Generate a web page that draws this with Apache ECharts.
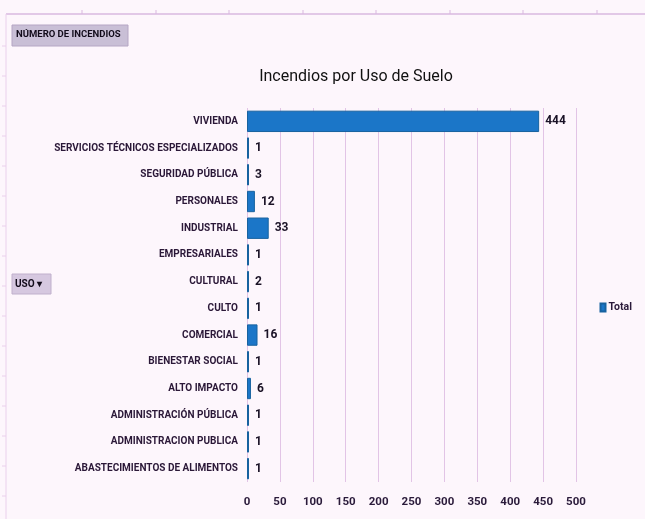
<!DOCTYPE html>
<html>
<head>
<meta charset="utf-8">
<script src="https://cdn.jsdelivr.net/npm/echarts@6/dist/echarts.min.js"></script>
<style>
html,body{margin:0;padding:0;background:#fdf6fc;}
#idChart{width:645px;height:519px;}
</style>
</head>
<body>
<div id="idChart"></div>
<script>
var categories = ['VIVIENDA', 'SERVICIOS TÉCNICOS ESPECIALIZADOS', 'SEGURIDAD PÚBLICA', 'PERSONALES',
    'INDUSTRIAL', 'EMPRESARIALES', 'CULTURAL', 'CULTO', 'COMERCIAL', 'BIENESTAR SOCIAL',
    'ALTO IMPACTO', 'ADMINISTRACIÓN PÚBLICA', 'ADMINISTRACION PUBLICA', 'ABASTECIMIENTOS DE ALIMENTOS'];
var totals = [444, 1, 3, 12, 33, 1, 2, 1, 16, 1, 6, 1, 1, 1];
var xTicks = [0, 50, 100, 150, 200, 250, 300, 350, 400, 450, 500];

var myChart = echarts.init(document.getElementById('idChart'));

var fnt = 'Roboto, "Liberation Sans Narrow", sans-serif';

// marcas del borde superior e izquierdo
var frame = [
    {type: 'line', shape: {x1: 6, y1: 14, x2: 645, y2: 14}, style: {stroke: '#d9b8e0', lineWidth: 1.5}},
    {type: 'line', shape: {x1: 6, y1: 14, x2: 6, y2: 519}, style: {stroke: '#ead0ec', lineWidth: 1}}
];
[82, 156, 229, 303, 376, 450, 523, 597].forEach(function (x) {
    frame.push({type: 'line', shape: {x1: x, y1: 10, x2: x, y2: 14}, style: {stroke: '#d9b8e0'}});
});
for (var y = 46; y < 519; y += 30) {
    frame.push({type: 'line', shape: {x1: 2, y1: y, x2: 6, y2: y}, style: {stroke: '#ead0ec'}});
}

var Options = {
    backgroundColor: '#fdf6fc',
    animation: false,
    title: {
        text: 'Incendios por Uso de Suelo',
        left: 351, top: 64, textAlign: 'center',
        textStyle: {fontFamily: 'Roboto, sans-serif', fontWeight: 'normal', fontSize: 16, color: '#111'}
    },
    legend: {
        data: ['Total'], right: 8, top: 297, itemWidth: 5, itemHeight: 8,
        itemGap: 3, icon: 'rect',
        textStyle: {fontFamily: fnt, fontWeight: 'bold', fontSize: 10.5, color: '#2a1a3a', padding: [0, 0, 0, -2]}
    },
    grid: {left: 247, right: 69, top: 108, bottom: 37},
    xAxis: {
        type: 'value', min: 0, max: 500, interval: 50,
        axisLine: {show: false}, axisTick: {show: false},
        splitLine: {lineStyle: {color: '#e2c4e6', width: 1}},
        axisLabel: {
            margin: 14, fontFamily: fnt, fontWeight: 'bold', fontSize: 11.5, color: '#2a1a3a',
            formatter: function (v) { return xTicks.indexOf(v) >= 0 ? String(v) : ''; }
        }
    },
    yAxis: {
        type: 'category', data: categories, inverse: true,
        axisLine: {show: false}, axisTick: {show: false},
        axisLabel: {margin: 9, fontFamily: fnt, fontWeight: 'bold', fontSize: 10, color: '#2b1838'}
    },
    series: [{
        name: 'Total', type: 'bar', data: totals,
        barCategoryGap: '20%',
        barMinHeight: 2,
        itemStyle: {color: '#1b76c8', borderColor: '#17629f', borderWidth: 1},
        label: {
            show: true, position: 'right', distance: 6,
            fontFamily: fnt, fontWeight: 'bold', fontSize: 12, color: '#1a1226'
        }
    }],
    graphic: frame.concat([
        {type: 'rect', shape: {x: 12, y: 25, width: 116, height: 21},
            style: {fill: '#c9bfd6', stroke: '#b5a6c4'}},
        {type: 'text', x: 16, y: 30,
            style: {text: 'NÚMERO DE INCENDIOS', fontFamily: fnt, fontWeight: 'bold', fontSize: 9.5, fill: '#120b1a'}},
        {type: 'rect', shape: {x: 12, y: 274, width: 39, height: 20},
            style: {fill: '#d6c8e0', stroke: '#c0b0cc'}},
        {type: 'text', x: 15, y: 279,
            style: {text: 'USO ▾', fontFamily: fnt, fontWeight: 'bold', fontSize: 10, fill: '#120b1a'}}
    ])
};

myChart.setOption(Options);
</script>
</body>
</html>
